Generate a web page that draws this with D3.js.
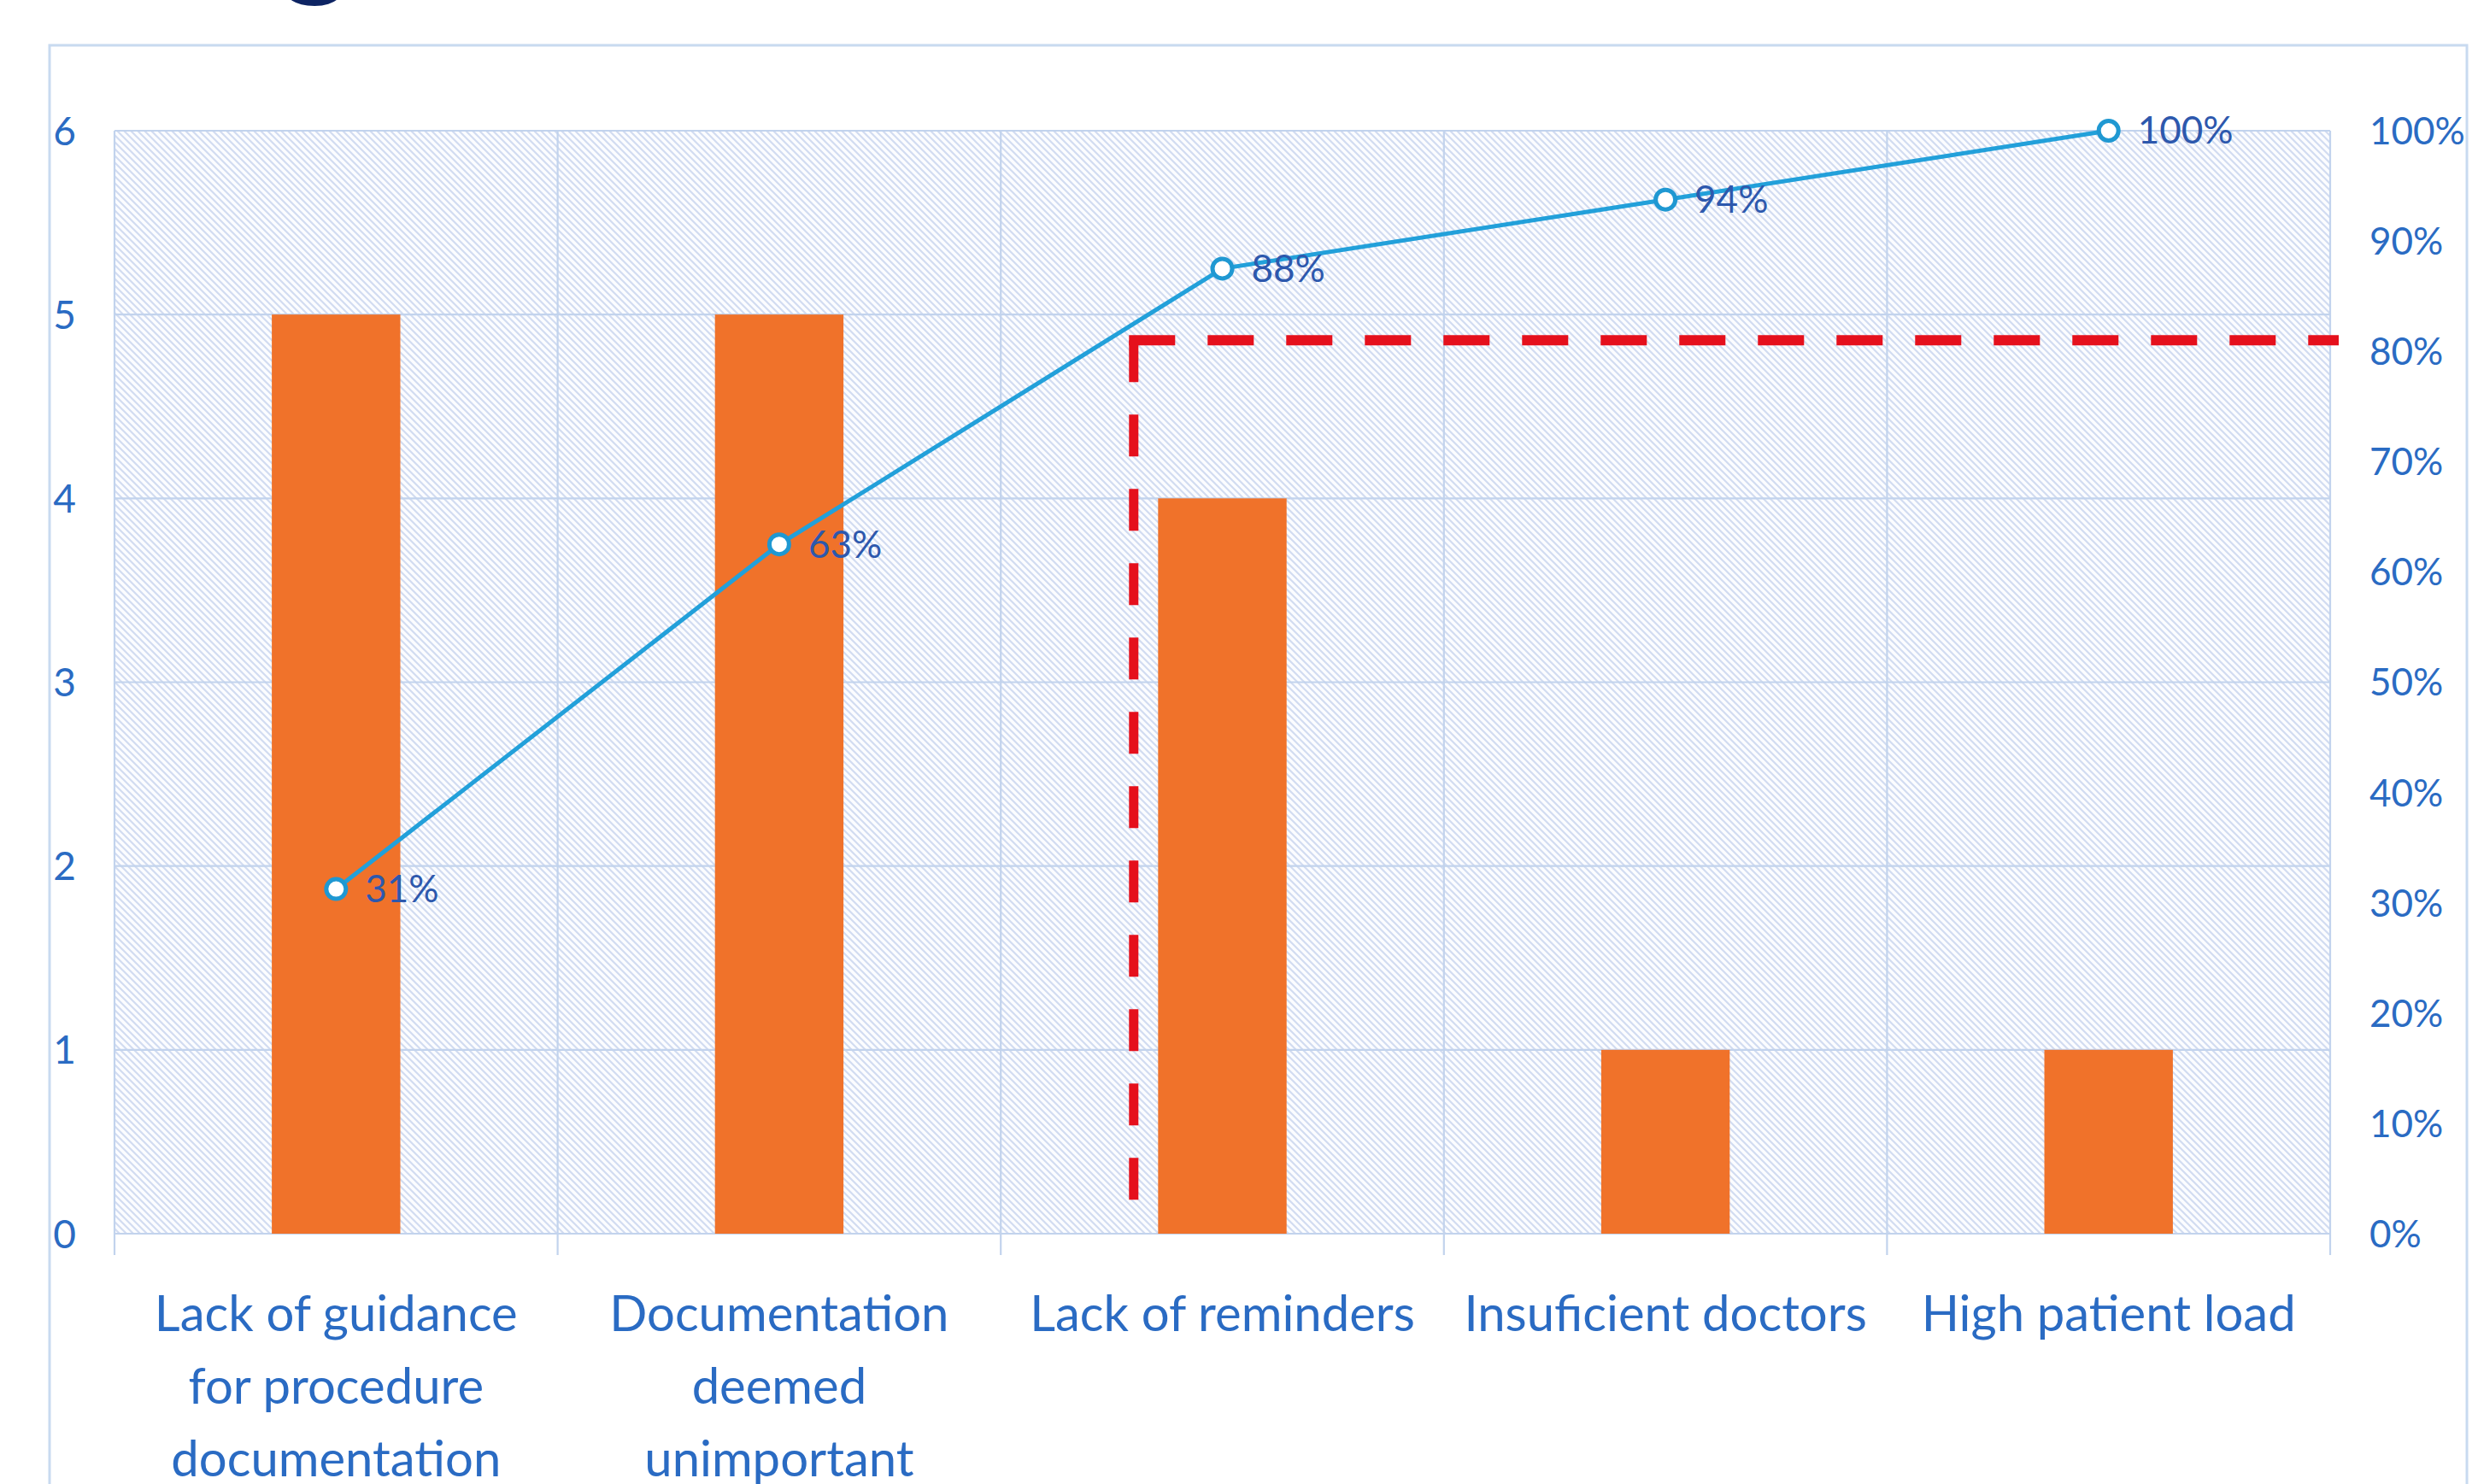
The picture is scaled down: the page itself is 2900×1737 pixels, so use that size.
<!DOCTYPE html>
<html>
<head>
<meta charset="utf-8">
<script src="https://cdn.jsdelivr.net/npm/d3@7"></script>
<style>
  html, body { margin: 0; padding: 0; background: #ffffff; }
  svg { display: block; }
</style>
</head>
<body>
<svg id="chart" width="2900" height="1737"></svg>
<script>
// ---------------- data ----------------
const categories = [
  "Lack of guidance for procedure documentation",
  "Documentation deemed unimportant",
  "Lack of reminders",
  "Insuficient doctors",
  "High patient load"
];
const categoryLines = [
  ["Lack of guidance", "for procedure", "documentation"],
  ["Documentation", "deemed", "unimportant"],
  ["Lack of reminders"],
  ["Insuficient doctors"],
  ["High patient load"]
];
const counts = [5, 5, 4, 1, 1];
const cumulativePct = [31.25, 62.5, 87.5, 93.75, 100];
const cumulativeLabels = ["31%", "63%", "88%", "94%", "100%"];
const leftTicks = [0, 1, 2, 3, 4, 5, 6];
const rightTicks = [0, 10, 20, 30, 40, 50, 60, 70, 80, 90, 100];
const cutoffPct = 81;                    // red dashed threshold level
const cutoffCategory = "Lack of reminders";

// ---------------- layout ----------------
const W = 2900, H = 1737;
const plot = { left: 134, right: 2727, top: 153, bottom: 1444 };
const FONT = "Lato, 'Open Sans', 'Noto Sans', sans-serif";
const textBlue = "#2a6bc3";
const labelBlue = "#2d58ad";
const gridColor = "#c2d3ed";

const svg = d3.select("#chart");

// hatch pattern
const defs = svg.append("defs");
const pat = defs.append("pattern")
  .attr("id", "hatch").attr("patternUnits", "userSpaceOnUse")
  .attr("width", 8).attr("height", 8);
pat.append("rect").attr("width", 8).attr("height", 8).attr("fill", "#fcfdff");
pat.append("path")
  .attr("d", "M0,0 L8,8 M-2,6 L2,10 M6,-2 L10,2")
  .attr("stroke", "#d2dcf1").attr("stroke-width", 2.2);

// outer frame
svg.append("rect").attr("x", 58).attr("y", 53)
  .attr("width", 2829).attr("height", 1760)
  .attr("fill", "#ffffff").attr("stroke", "#c8daf0").attr("stroke-width", 3);

// cut-off title glyph at the very top
svg.append("text").attr("x", 330).attr("y", -20)
  .attr("font-family", FONT).attr("font-weight", 900)
  .attr("font-size", 150).attr("fill", "#0d2463").text("g");

// scales
const x = d3.scaleBand().domain(categories).range([plot.left, plot.right]).padding(0);
const yL = d3.scaleLinear().domain([0, 6]).range([plot.bottom, plot.top]);
const yR = d3.scaleLinear().domain([0, 100]).range([plot.bottom, plot.top]);

// plot background
svg.append("rect").attr("x", plot.left).attr("y", plot.top)
  .attr("width", plot.right - plot.left).attr("height", plot.bottom - plot.top)
  .attr("fill", "url(#hatch)");

// horizontal gridlines
svg.append("g").selectAll("line").data(leftTicks).join("line")
  .attr("x1", plot.left).attr("x2", plot.right)
  .attr("y1", d => yL(d)).attr("y2", d => yL(d))
  .attr("stroke", gridColor).attr("stroke-width", 2.2);

// vertical gridlines at band boundaries (extend below axis as ticks)
const bounds = categories.map(c => x(c)).concat([x(categories[categories.length - 1]) + x.bandwidth()]);
svg.append("g").selectAll("line").data(bounds).join("line")
  .attr("x1", d => d).attr("x2", d => d)
  .attr("y1", plot.top).attr("y2", plot.bottom + 25)
  .attr("stroke", gridColor).attr("stroke-width", 2.2);

// left axis
const axL = svg.append("g").attr("transform", `translate(${plot.left - 45},0)`)
  .call(d3.axisLeft(yL).tickValues(leftTicks).tickSize(0).tickPadding(0).tickFormat(d3.format("d")));
axL.select(".domain").remove();
axL.selectAll("text").attr("font-family", FONT).attr("font-size", 46)
  .attr("fill", textBlue).attr("dy", "0.35em");

// right axis
const axR = svg.append("g").attr("transform", `translate(${plot.right + 46},0)`)
  .call(d3.axisRight(yR).tickValues(rightTicks).tickSize(0).tickPadding(0).tickFormat(d => d + "%"));
axR.select(".domain").remove();
axR.selectAll("text").attr("font-family", FONT).attr("font-size", 44)
  .attr("fill", textBlue).attr("dy", "0.35em");

// bars
const barW = x.bandwidth() * 0.29;
svg.append("g").selectAll("rect").data(categories).join("rect")
  .attr("x", d => x(d) + x.bandwidth() / 2 - barW / 2)
  .attr("y", (d, i) => yL(counts[i]))
  .attr("width", barW)
  .attr("height", (d, i) => yL(0) - yL(counts[i]))
  .attr("fill", "#f0722a");

// category labels
const xl = svg.append("g");
categories.forEach((c, i) => {
  const t = xl.append("text")
    .attr("x", x(c) + x.bandwidth() / 2).attr("y", 1558)
    .attr("text-anchor", "middle").attr("font-family", FONT)
    .attr("font-size", 58).attr("fill", textBlue);
  categoryLines[i].forEach((ln, k) => {
    t.append("tspan").attr("x", x(c) + x.bandwidth() / 2).attr("y", 1558 + k * 85).text(ln);
  });
});

// red dashed cutoff
const cx = x(cutoffCategory) + x.bandwidth() * 0.30;
const cy = yR(cutoffPct);
svg.append("path").attr("d", `M${cx},${cy} L${cx},1416`)
  .attr("stroke", "#e5101c").attr("stroke-width", 11).attr("fill", "none")
  .attr("stroke-dasharray", "49,38");
svg.append("path").attr("d", `M${cx - 5.5},${cy} L${plot.right + 10},${cy}`)
  .attr("stroke", "#e5101c").attr("stroke-width", 12).attr("fill", "none")
  .attr("stroke-dasharray", "54,38");

// cumulative line
const pts = categories.map((c, i) => [x(c) + x.bandwidth() / 2, yR(cumulativePct[i])]);
svg.append("path").attr("d", d3.line()(pts))
  .attr("fill", "none").attr("stroke", "#22a0da").attr("stroke-width", 5);
svg.append("g").selectAll("circle").data(pts).join("circle")
  .attr("cx", d => d[0]).attr("cy", d => d[1]).attr("r", 11.5)
  .attr("fill", "#ffffff").attr("stroke", "#1f98d2").attr("stroke-width", 5);
svg.append("g").selectAll("text").data(pts).join("text")
  .attr("x", d => d[0] + 34).attr("y", d => d[1]).attr("dy", "0.35em")
  .attr("font-family", FONT).attr("font-size", 44).attr("fill", labelBlue)
  .text((d, i) => cumulativeLabels[i]);
</script>
</body>
</html>
